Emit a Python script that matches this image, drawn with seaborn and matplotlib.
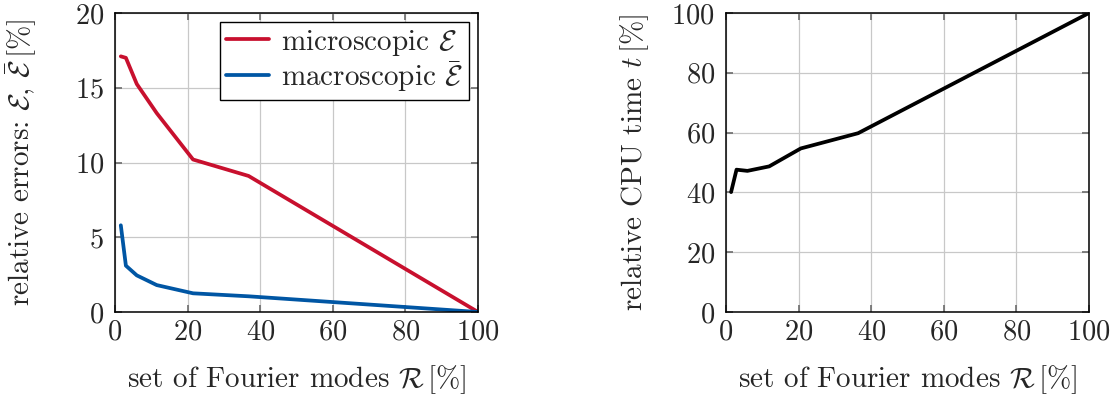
import matplotlib
matplotlib.use("Agg")
import matplotlib.pyplot as plt
import seaborn as sns
import pandas as pd

# values
modes_err = [1.6, 3.0, 6.0, 11.5, 21.5, 36.8, 100]
micro_err = [17.1, 17.0, 15.25, 13.3, 10.2, 9.1, 0.0]
macro_err = [5.8, 3.1, 2.45, 1.8, 1.25, 1.05, 0.0]

modes_cpu = [1.4, 2.9, 5.9, 11.9, 20.6, 36.4, 100]
cpu_time = [40.1, 47.6, 47.2, 48.7, 54.7, 59.8, 100.0]

red = "#C8102E"
blue = "#0056A4"

sns.set_theme(style="ticks")
plt.rcParams["font.family"] = "serif"
plt.rcParams["font.serif"] = ["cmr10", "DejaVu Serif"]
plt.rcParams["mathtext.fontset"] = "cm"
plt.rcParams["axes.unicode_minus"] = False
plt.rcParams["axes.formatter.use_mathtext"] = True

df_err = pd.DataFrame({
    "R": modes_err * 2,
    "err": micro_err + macro_err,
    "kind": [r"microscopic $\mathcal{E}$"] * len(modes_err)
            + [r"macroscopic $\bar{\mathcal{E}}$"] * len(modes_err),
})
df_cpu = pd.DataFrame({"R": modes_cpu, "t": cpu_time})

fig = plt.figure(figsize=(11.18, 3.94), dpi=100)
ax1 = fig.add_axes([115 / 1118, 1 - 312 / 394, 363 / 1118, 299 / 394])
ax2 = fig.add_axes([726 / 1118, 1 - 312 / 394, 363 / 1118, 299 / 394])

sns.lineplot(data=df_err, x="R", y="err", hue="kind",
             palette=[red, blue], linewidth=2.7, ax=ax1)
sns.lineplot(data=df_cpu, x="R", y="t", color="black", linewidth=2.7, ax=ax2)

fs = 21
for ax in (ax1, ax2):
    ax.set_xlim(0, 100)
    ax.set_xticks([0, 20, 40, 60, 80, 100])
    ax.grid(True, color="#c8c8c8", linewidth=0.9)
    ax.set_axisbelow(True)
    ax.tick_params(direction="in", top=True, right=True, length=5,
                   color="#707070", labelsize=20.5)
    ax.tick_params(axis="x", pad=5)
    ax.tick_params(axis="y", pad=8)
    for s in ax.spines.values():
        s.set_color("black")
        s.set_linewidth(1.1)
    ax.set_xlabel(r"set of Fourier modes $\mathcal{R}\,[\%]$", fontsize=fs)
    ax.xaxis.set_label_coords(0.5, -0.172)

ax1.set_ylim(0, 20)
ax1.set_yticks([0, 5, 10, 15, 20])
ax1.set_ylabel(r"relative errors: $\mathcal{E}$, $\bar{\mathcal{E}}\,[\%]$", fontsize=21)
ax1.yaxis.set_label_coords(-0.21, 0.5)
ax2.set_ylim(0, 100)
ax2.set_yticks([0, 20, 40, 60, 80, 100])
ax2.set_ylabel(r"relative CPU time $t\,[\%]$", fontsize=21)
ax2.yaxis.set_label_coords(-0.207, 0.5)

leg = ax1.legend(loc="upper right", fontsize=fs, frameon=True, fancybox=False,
                 edgecolor="black", framealpha=1, borderaxespad=0.3,
                 handlelength=1.5, handletextpad=0.4, labelspacing=0.05,
                 borderpad=0.2, title=None)
leg.get_frame().set_linewidth(1.0)

fig.savefig("out.png", dpi=100)
